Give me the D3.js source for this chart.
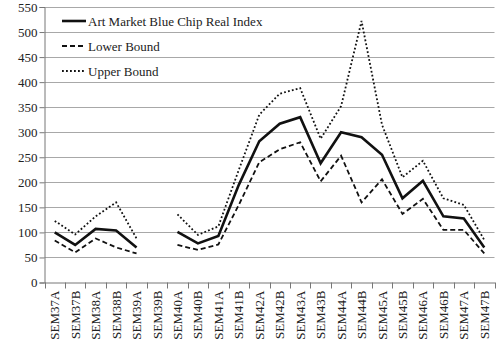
<!DOCTYPE html>
<html><head><meta charset="utf-8">
<script src="https://cdn.jsdelivr.net/npm/d3@7"></script>
<style>body{margin:0;background:#fff}</style>
</head><body><svg id="c" width="502" height="348"></svg>
<script>
const categories=["SEM37A","SEM37B","SEM38A","SEM38B","SEM39A","SEM39B","SEM40A","SEM40B","SEM41A","SEM41B","SEM42A","SEM42B","SEM43A","SEM43B","SEM44A","SEM44B","SEM45A","SEM45B","SEM46A","SEM46B","SEM47A","SEM47B"];
const indexValues=[100,75,107,104,70,null,101,78,93,195,282,317,330,238,300,290,255,168,203,132,128,70];
const lowerValues=[84,60,88,70,58,null,75,65,76,155,240,266,280,202,253,160,206,137,167,105,105,58];
const upperValues=[123,96,132,160,88,null,136,95,112,225,335,377,388,287,352,522,315,210,243,168,155,85];
const yTicks=[0,50,100,150,200,250,300,350,400,450,500,550];
const seriesNames=["Art Market Blue Chip Real Index","Lower Bound","Upper Bound"];

const FONT="'Liberation Serif'";
const FS=13;
const svg=d3.select("#c");
const L=44.5,R=494.5,T=7,B=282.5;
const x=d3.scaleBand().domain(categories).range([L,R]);
const y=d3.scaleLinear().domain([0,550]).range([B,T]);

// gridlines
svg.append("g").selectAll("line").data(yTicks.filter(d=>d>0)).join("line")
 .attr("x1",L).attr("x2",R).attr("y1",d=>Math.round(y(d))+0.5).attr("y2",d=>Math.round(y(d))+0.5)
 .attr("stroke","#a8a8a8").attr("stroke-width",1);

// y axis
const ya=svg.append("g").attr("transform",`translate(${L},0)`)
 .call(d3.axisLeft(y).tickValues(yTicks).tickSize(5).tickPadding(2));
ya.attr("font-family",null);
ya.select(".domain").attr("stroke","#777");
ya.selectAll(".tick line").attr("stroke","#777");
ya.selectAll("text").attr("font-size",FS).attr("fill","#222").style("font-family",FONT);

// x axis
const xa=svg.append("g").attr("transform",`translate(0,${B})`)
 .call(d3.axisBottom(x).tickSize(0).tickPadding(0));
xa.attr("font-family",null);
xa.select(".domain").attr("stroke","#777");
xa.selectAll(".tick text").attr("font-size",FS).attr("fill","#222").style("font-family",FONT)
 .attr("text-anchor","end").attr("transform","translate(0,8) rotate(-90)").attr("dy","0.35em").attr("x",0).attr("y",0);
// boundary ticks
const bounds=categories.map(c=>x(c)).concat([R]);
svg.append("g").selectAll("line").data(bounds).join("line")
 .attr("x1",d=>Math.round(d)+0.5).attr("x2",d=>Math.round(d)+0.5).attr("y1",B).attr("y2",B+6)
 .attr("stroke","#777");

const cx=c=>x(c)+x.bandwidth()/2;
const line=d3.line().defined(d=>d.v!=null).x(d=>cx(d.c)).y(d=>y(d.v));
const styles=[{w:2.6,dash:null},{w:1.8,dash:"5,3"},{w:1.8,dash:"1.8,2.2"}];
[indexValues,lowerValues,upperValues].forEach((vals,i)=>{
 svg.append("path").datum(categories.map((c,j)=>({c,v:vals[j]})))
  .attr("d",line).attr("fill","none").attr("stroke","#111")
  .attr("stroke-width",styles[i].w).attr("stroke-dasharray",styles[i].dash);
});

// legend
const lg=svg.append("g");
seriesNames.forEach((n,i)=>{
 const yy=21+i*25;
 lg.append("line").attr("x1",62).attr("x2",86).attr("y1",yy).attr("y2",yy)
  .attr("stroke","#111").attr("stroke-width",styles[i].w).attr("stroke-dasharray",styles[i].dash);
 lg.append("text").attr("x",88).attr("y",yy).attr("dy","0.35em").attr("font-size",FS).style("font-family",FONT).attr("fill","#222").text(n);
});
</script></body></html>
